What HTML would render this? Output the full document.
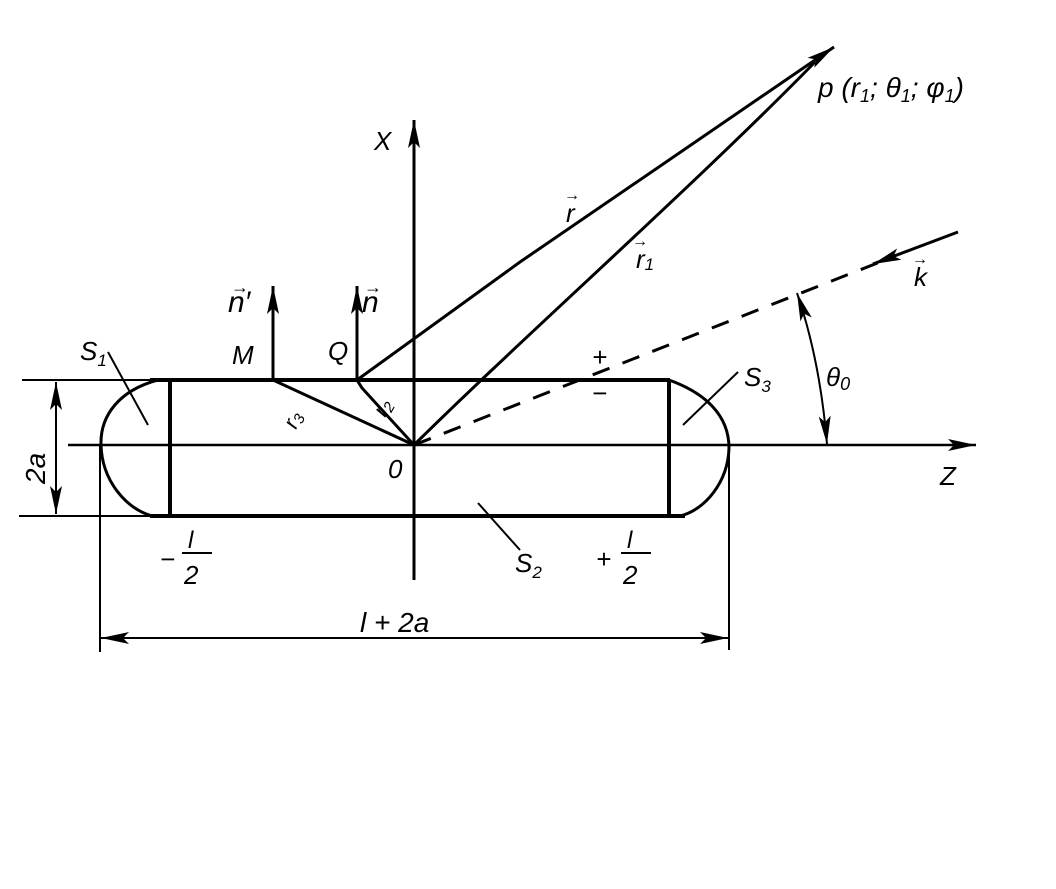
<!DOCTYPE html>
<html><head><meta charset="utf-8"><style>
html,body{margin:0;padding:0;background:#fff}
svg{display:block}
text{font-family:"Liberation Sans",sans-serif;font-style:italic;fill:#000}
</style></head><body>
<svg width="1056" height="889" viewBox="0 0 1056 889" xmlns="http://www.w3.org/2000/svg">
<defs>
<marker id="a" markerWidth="30" markerHeight="14" refX="28" refY="7" orient="auto" markerUnits="userSpaceOnUse">
<path d="M0,1 L28,7 L0,13 L6,7 Z" fill="#000"/></marker>
<marker id="as" markerWidth="30" markerHeight="14" refX="2" refY="7" orient="auto" markerUnits="userSpaceOnUse">
<path d="M30,1 L2,7 L30,13 L24,7 Z" fill="#000"/></marker>
</defs>
<g stroke="#000" fill="none">
<line x1="22" y1="380" x2="170" y2="380" stroke-width="2"/>
<line x1="19" y1="516" x2="170" y2="516" stroke-width="2"/>
<line x1="150" y1="380" x2="670" y2="380" stroke-width="4"/>
<line x1="150" y1="516" x2="685" y2="516" stroke-width="4"/>
<line x1="170" y1="380" x2="170" y2="516" stroke-width="4"/>
<line x1="669" y1="380" x2="669" y2="516" stroke-width="4"/>
<path d="M158,380 C120,390 100,415 101,445 C102,480 125,508 152,516" stroke-width="3"/>
<path d="M669,380 C705,393 729,415 729,448 C728,482 705,510 680,516" stroke-width="3"/>
<line x1="414" y1="580" x2="414" y2="120" stroke-width="3" marker-end="url(#a)"/>
<line x1="68" y1="445" x2="976" y2="445" stroke-width="2.5" marker-end="url(#a)"/>
<line x1="56" y1="382" x2="56" y2="514" stroke-width="2" marker-start="url(#as)" marker-end="url(#a)"/>
<line x1="100" y1="445" x2="100" y2="652" stroke-width="2"/>
<line x1="729" y1="445" x2="729" y2="650" stroke-width="2"/>
<line x1="101" y1="638" x2="728" y2="638" stroke-width="2" marker-start="url(#as)" marker-end="url(#a)"/>
<line x1="273" y1="380" x2="273" y2="286" stroke-width="3" marker-end="url(#a)"/>
<line x1="357" y1="380" x2="357" y2="286" stroke-width="3" marker-end="url(#a)"/>
<path d="M357,380 L520,262 L834,47" stroke-width="3" marker-end="url(#a)"/>
<path d="M414,445 C520,340 700,180 815,62" stroke-width="3"/>
<line x1="273" y1="380" x2="414" y2="445" stroke-width="3"/>
<path d="M357,380 L362,388 L414,445" stroke-width="3"/>
<line x1="414" y1="445" x2="880" y2="262" stroke-width="3" stroke-dasharray="18,14"/>
<line x1="958" y1="232" x2="873" y2="264" stroke-width="3" marker-end="url(#a)"/>
<path d="M797,293 Q820,360 827,444" stroke-width="2" marker-start="url(#as)" marker-end="url(#a)"/>
<line x1="108" y1="352" x2="148" y2="425" stroke-width="2"/>
<line x1="738" y1="372" x2="683" y2="425" stroke-width="2"/>
<line x1="478" y1="503" x2="520" y2="550" stroke-width="2"/>
<line x1="182" y1="553" x2="212" y2="553" stroke-width="2"/>
<line x1="621" y1="553" x2="651" y2="553" stroke-width="2"/>
</g>
<g font-size="26">
<text x="374" y="150">X</text>
<text x="940" y="485">Z</text>
<text x="388" y="478">0</text>
<text x="232" y="364">M</text>
<text x="328" y="360">Q</text>
<text x="228" y="312" font-size="30">n&#8242;</text>
<text x="362" y="312" font-size="30">n</text>
<text x="231" y="293" font-size="18">&#8594;</text>
<text x="364" y="293" font-size="18">&#8594;</text>
<text x="80" y="360">S<tspan font-size="17" dy="6">1</tspan></text>
<text x="744" y="386">S<tspan font-size="17" dy="6">3</tspan></text>
<text x="515" y="572">S<tspan font-size="17" dy="6">2</tspan></text>
<text x="826" y="386">θ<tspan font-size="18" dy="4">0</tspan></text>
<text x="818" y="97" font-size="28">p (r<tspan font-size="18" dy="5">1</tspan><tspan dy="-5">; θ</tspan><tspan font-size="18" dy="5">1</tspan><tspan dy="-5">; φ</tspan><tspan font-size="18" dy="5">1</tspan><tspan dy="-5">)</tspan></text>
<text x="566" y="222" font-size="26">r</text>
<text x="564" y="200" font-size="16">&#8594;</text>
<text x="636" y="268" font-size="26">r<tspan font-size="17" dy="2">1</tspan></text>
<text x="632" y="246" font-size="16">&#8594;</text>
<text x="914" y="286" font-size="26">k</text>
<text x="912" y="264" font-size="16">&#8594;</text>
<text x="0" y="0" font-size="22" transform="translate(296,430) rotate(-65)">r<tspan font-size="15" dy="3">3</tspan></text>
<text x="0" y="0" font-size="22" transform="translate(385,418) rotate(-60)">r<tspan font-size="15" dy="3">2</tspan></text>
<text x="0" y="0" font-size="28" transform="translate(45,484) rotate(-90)">2a</text>
<text x="188" y="548" font-size="24">l</text>
<text x="184" y="584" font-size="26">2</text>
<text x="627" y="548" font-size="24">l</text>
<text x="623" y="584" font-size="26">2</text>
<text x="160" y="568">−</text>
<text x="596" y="568">+</text>
<text x="360" y="632" font-size="28">l + 2a</text>
<text x="592" y="366">+</text>
<text x="592" y="402">−</text>
</g>
</svg>
</body></html>
